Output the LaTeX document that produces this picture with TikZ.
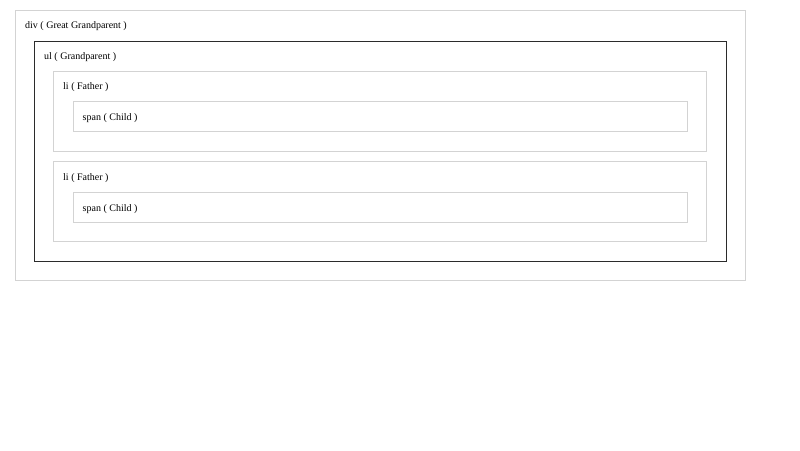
\documentclass[tikz,border=0pt]{standalone}
\usepackage{fontspec}
\setmainfont{Liberation Serif}
\definecolor{boxgray}{HTML}{D3D3D3}
\definecolor{ulborder}{HTML}{2B2B2B}
\tikzset{
  label text/.style={anchor=base west,inner sep=0pt,font=\fontsize{10}{12}\selectfont},
  light box/.style={draw=boxgray,line width=1pt},
  dark box/.style={draw=ulborder,line width=1pt}
}
\begin{document}
\begin{tikzpicture}[x=1pt,y=-1pt]
\useasboundingbox (0,0) rectangle (800,450);

\draw[light box] (15,10) rectangle (745,280);
\draw[dark box] (34.5,41) rectangle (726,261);
\draw[light box] (53.5,71) rectangle (706.5,151);
\draw[light box] (73,101.5) rectangle (687,131.5);
\draw[light box] (53.5,161.5) rectangle (706.5,241.5);
\draw[light box] (73,192.5) rectangle (687,222.5);

\node[label text] (div) at (25,28) {div ( Great Grandparent )};
\node[label text] (ul) at (44,59) {ul ( Grandparent )};
\node[label text] (li1) at (63,89.5) {li ( Father )};
\node[label text] (span1) at (82.5,120.5) {span ( Child )};
\node[label text] (li2) at (63,180) {li ( Father )};
\node[label text] (span2) at (82.5,211) {span ( Child )};
\end{tikzpicture}
\end{document}
